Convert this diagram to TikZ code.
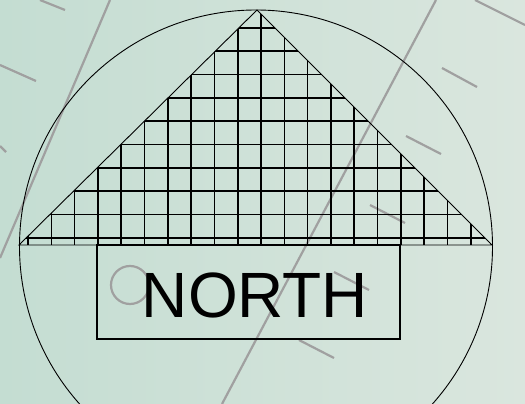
\documentclass[tikz,border=0pt]{standalone}
\usepackage{fontspec}
\setmainfont{Liberation Sans}
\usetikzlibrary{positioning}
\definecolor{bgLeft}{RGB}{196, 221, 210}
\definecolor{bgRight}{RGB}{218, 230, 222}
\definecolor{strokeGray}{RGB}{160, 160, 160}

\begin{document}
\begin{tikzpicture}[
    x=1pt, y=-1pt,
    faint/.style={
        draw=strokeGray,
        line width=2.2pt
    },
    outline/.style={
        draw=black,
        line width=0.9pt
    },
    gridline/.style={
        draw=black,
        line width=1.6pt
    },
    signbox/.style={
        rectangle,
        draw=black,
        line width=1.4pt
    },
    label/.style={
        font=\fontsize{64}{64}\selectfont,
        text=black,
        inner sep=0pt
    }
]

% Background
\shade[left color=bgLeft, right color=bgRight] (0,0) rectangle (525,404);
\useasboundingbox (0,0) rectangle (525,404);

% Faint strokes
\draw[faint] (110,0) -- (0,258);
\draw[faint] (436,0) -- (222,404);
\draw[faint] (40,0) -- (65,10);
\draw[faint] (0,65) -- (36,81);
\draw[faint] (0,146) -- (6,152);
\draw[faint] (475,0) -- (525,25);
\draw[faint] (442,68) -- (477,87);
\draw[faint] (406,136) -- (441,154);
\draw[faint] (370,205) -- (405,223);
\draw[faint] (334,272) -- (369,290);
\draw[faint] (299,340) -- (334,358);
\draw[faint] (130,285) circle[radius=19pt];

% Compass circle
\draw[outline] (256,246.5) circle[radius=236.5pt];

% Hatched arrow head
\coordinate (apex) at (257,10);
\coordinate (baseL) at (19,245);
\coordinate (baseR) at (492,245);
\begin{scope}
    \clip (baseL) -- (apex) -- (baseR) -- cycle;
    \foreach \k in {0,...,19}
        \draw[gridline] ({28+23.3*\k},0) -- ({28+23.3*\k},245);
    \foreach \k in {0,...,9}
        \draw[gridline] (0,{28+23.3*\k}) -- (525,{28+23.3*\k});
\end{scope}
\draw[outline] (baseL) -- (apex) -- (baseR) -- cycle;

% Sign
\draw[signbox] (97,245) rectangle (400,339);
\node[label, anchor=base] (north) at (255,317) {NORTH};

\end{tikzpicture}
\end{document}
